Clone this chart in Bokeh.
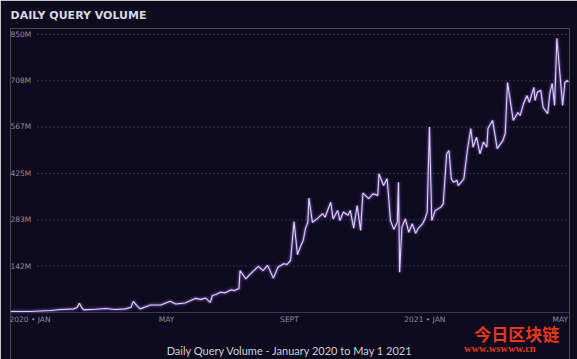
from bokeh.plotting import figure
from bokeh.models import Range1d, Span
from bokeh.embed import file_html
from bokeh.resources import INLINE
from bokeh.core.properties import value

# day index since 2020-01-01, daily query volume in millions
days = [0, 17, 35, 44, 55, 58, 60, 62, 64, 74, 83, 91, 100, 105, 107, 110, 113,
        122, 131, 139, 144, 152, 161, 166, 170, 174, 176, 179, 183, 187, 192, 195,
        199, 200, 205, 209, 212, 216, 220, 224, 229, 233, 238, 241, 244, 247, 250,
        253, 255, 257, 259, 260, 263, 267, 272, 274, 279, 281, 285, 287, 290, 294,
        296, 299, 302, 305, 307, 312, 316, 320, 321, 325, 328, 329, 331, 334, 337,
        338, 339, 341, 344, 347, 350, 353, 355, 359, 361, 363, 365, 367, 370, 375,
        377, 380, 382, 384, 386, 389, 390, 394, 395, 398, 401, 403, 406, 409, 412,
        415, 416, 420, 424, 429, 431, 433, 436, 438, 442, 444, 447, 450, 452, 456,
        457, 459, 462, 464, 468, 470, 472, 474, 476, 479, 481, 483, 485, 486]
volume_m = [3, 3, 6, 9, 11, 15, 28, 15, 8, 10, 12, 9, 11, 16, 34, 21, 11,
            23, 23, 34, 26, 29, 43, 40, 44, 31, 52, 55, 62, 60, 69, 67,
            73, 128, 103, 118, 128, 141, 128, 144, 105, 138, 149, 147, 159, 278, 177,
            205, 220, 257, 275, 350, 276, 286, 302, 291, 337, 286, 312, 281, 307, 297,
            312, 258, 327, 251, 365, 348, 363, 358, 424, 388, 409, 373, 281, 254, 276,
            398, 123, 261, 286, 245, 271, 242, 256, 271, 286, 306, 567, 281, 312, 322,
            332, 485, 495, 409, 398, 404, 388, 404, 409, 495, 562, 505, 536, 485, 521,
            505, 563, 587, 501, 526, 547, 703, 633, 587, 611, 602, 639, 663, 642, 688,
            648, 673, 679, 627, 608, 673, 700, 633, 838, 715, 633, 703, 709, 704]

y_ticks = [142, 283, 425, 567, 708, 850]
y_tick_labels = ["142M", "283M", "425M", "567M", "708M", "850M"]
x_tick_days = [17, 136, 243, 361, 479]
x_tick_labels = ["2020 • JAN", "MAY", "SEPT", "2021 • JAN", "MAY"]

title_text = "DAILY QUERY VOLUME"
caption_text = "Daily Query Volume - January 2020 to May 1 2021"
watermark_cn = "今日区块链"
watermark_url = "www.wswww.cn"

BG = "#0e0b1f"
LABEL = "#8e8aa0"
X_END = 487

p = figure(frame_width=559, frame_height=331,
           x_range=Range1d(0, X_END), y_range=Range1d(-143.7, 868),
           output_backend="svg", toolbar_location=None,
           x_axis_location=None, y_axis_location=None,
           min_border_left=10, min_border_right=8, min_border_top=0, min_border_bottom=0,
           background_fill_color=BG, border_fill_color=BG, outline_line_color=None)

p.title.text = title_text
p.title.text_font = "DejaVu Sans"
p.title.text_font_size = "11px"
p.title.text_font_style = "bold"
p.title.text_color = "#d9d6e2"
p.title.standoff = 13
p.title.offset = 0

p.xgrid.visible = False
p.ygrid.visible = False

# horizontal grid lines starting after the inline value labels
p.segment(x0=23, y0=y_ticks, x1=X_END, y1=y_ticks, line_color="#38344f",
          line_dash="2 2", line_width=1)
p.text(x=0, y=y_ticks, text=y_tick_labels, text_baseline="middle", text_align="left",
       text_font=value("DejaVu Sans"), text_font_size="7.5px", text_color=LABEL)

# baseline (time axis line)
p.add_layout(Span(location=0, dimension="width", line_color="#3a3652", line_width=1))

# time axis labels
p.text(x=x_tick_days, y=0, text=x_tick_labels, y_offset=7,
       text_baseline="middle", text_align="center",
       text_font=value("DejaVu Sans"), text_font_size="7.5px", text_color=LABEL)

# glowing line
p.line(days, volume_m, line_color="#8f5fe8", line_width=6, line_alpha=0.13)
p.line(days, volume_m, line_color="#a97cf0", line_width=3, line_alpha=0.3)
p.line(days, volume_m, line_color="#ddd2f8", line_width=1.1)

# caption under the chart
p.text(x=[X_END / 2], y=[0], text=[caption_text], y_offset=38,
       text_baseline="middle", text_align="center",
       text_font=value("Lato"), text_font_size="11px", text_color="#d0ccd8")

# watermark
p.text(x=[404], y=[0], text=[watermark_cn], y_offset=21,
       text_baseline="middle", text_align="left",
       text_font=value("Noto Sans CJK SC"), text_font_style="bold",
       text_font_size="17px", text_color="#e8361f")
p.text(x=[395], y=[0], text=[watermark_url], y_offset=36,
       text_baseline="middle", text_align="left",
       text_font=value("Liberation Serif"), text_font_style="bold",
       text_font_size="10.5px", text_color="#e8361f")

open("out.html", "w").write(file_html(p, INLINE))
